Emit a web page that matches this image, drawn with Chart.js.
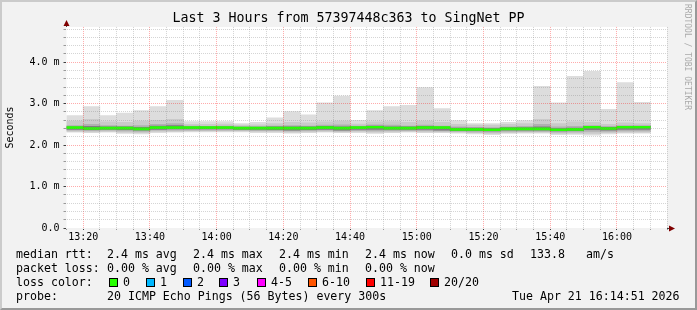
<!DOCTYPE html>
<html>
<head>
<meta charset="utf-8">
<script src="https://cdn.jsdelivr.net/npm/chart.js@4.4.1/dist/chart.umd.min.js"></script>
<style>
  html, body { margin: 0; padding: 0; background: #f2f2f2; }
  #wrap { position: relative; width: 697px; height: 310px; overflow: hidden; font-family: 'DejaVu Sans Mono', monospace; }
  #frame { position: absolute; left: 0; top: 0; width: 697px; height: 310px; box-sizing: border-box;
           border-style: solid; border-width: 2px; border-color: #cbcbcb #999 #999 #cbcbcb; pointer-events: none; }
  canvas { position: absolute; left: 0; top: 0; }
  .t { position: absolute; font-size: 11.6px; line-height: 14px; white-space: pre; color: #000; }
  .box { position: absolute; top: 278px; width: 7px; height: 7px; border: 1px solid #000; }
  #mark { position: absolute; left: 683px; top: 4px; writing-mode: vertical-rl; font-size: 8px; line-height: 9px; color: #aaa; }
</style>
</head>
<body>
<div id="wrap">
  <canvas id="chart" width="697" height="310"></canvas>

  <div class="t" style="left:16px;top:247px">median rtt:</div>
  <div class="t" style="left:107px;top:247px">2.4 ms avg</div>
  <div class="t" style="left:193px;top:247px">2.4 ms max</div>
  <div class="t" style="left:279px;top:247px">2.4 ms min</div>
  <div class="t" style="left:365px;top:247px">2.4 ms now</div>
  <div class="t" style="left:451px;top:247px">0.0 ms sd</div>
  <div class="t" style="left:530px;top:247px">133.8</div>
  <div class="t" style="left:586px;top:247px">am/s</div>

  <div class="t" style="left:16px;top:261px">packet loss:</div>
  <div class="t" style="left:107px;top:261px">0.00 % avg</div>
  <div class="t" style="left:193px;top:261px">0.00 % max</div>
  <div class="t" style="left:279px;top:261px">0.00 % min</div>
  <div class="t" style="left:365px;top:261px">0.00 % now</div>

  <div class="t" style="left:16px;top:275px">loss color:</div>
  <div id="lossLegend"></div>

  <div class="t" style="left:16px;top:289px">probe:</div>
  <div class="t" style="left:107px;top:289px">20 ICMP Echo Pings (56 Bytes) every 300s</div>
  <div class="t" style="left:512px;top:289px">Tue Apr 21 16:14:51 2026</div>

  <div id="mark">RRDTOOL / TOBI OETIKER</div>
  <div id="frame"></div>
</div>

<script>
// 5 minute bins, start time of each
const slots = ['13:15', '13:20', '13:25', '13:30', '13:35', '13:40', '13:45', '13:50', '13:55',
               '14:00', '14:05', '14:10', '14:15', '14:20', '14:25', '14:30', '14:35', '14:40',
               '14:45', '14:50', '14:55', '15:00', '15:05', '15:10', '15:15', '15:20', '15:25',
               '15:30', '15:35', '15:40', '15:45', '15:50', '15:55', '16:00', '16:05'];

const xTickLabels = ['13:20', '13:40', '14:00', '14:20', '14:40', '15:00', '15:20', '15:40', '16:00'];
const yTickLabels = ['0.0', '1.0 m', '2.0 m', '3.0 m', '4.0 m'];

// rtt in ms: outer smoke (min..max) and inner smoke bands
const rttMax = [2.71, 2.93, 2.71, 2.77, 2.83, 2.93, 3.08, 2.57, 2.57, 2.57, 2.52, 2.55, 2.66, 2.81, 2.73, 3.02, 3.18, 2.60,
                2.83, 2.93, 2.96, 3.39, 2.88, 2.59, 2.52, 2.52, 2.55, 2.59, 3.42, 3.02, 3.66, 3.78, 2.86, 3.51, 3.03];
const rttMin = [2.31, 2.30, 2.31, 2.28, 2.27, 2.30, 2.31, 2.32, 2.32, 2.32, 2.32, 2.30, 2.30, 2.29, 2.30, 2.31, 2.30, 2.30,
                2.28, 2.30, 2.31, 2.30, 2.30, 2.29, 2.27, 2.25, 2.28, 2.29, 2.29, 2.25, 2.26, 2.24, 2.27, 2.29, 2.29];
const smoke2Hi = [2.58, 2.62, 2.56, 2.55, 2.58, 2.60, 2.62, 2.50, 2.50, 2.51, 2.48, 2.49, 2.52, 2.55, 2.54, 2.56, 2.58, 2.51,
                  2.56, 2.57, 2.55, 2.58, 2.55, 2.50, 2.48, 2.48, 2.50, 2.52, 2.62, 2.52, 2.56, 2.55, 2.50, 2.54, 2.52];
const smoke2Lo = [2.33, 2.32, 2.33, 2.31, 2.30, 2.33, 2.33, 2.34, 2.34, 2.34, 2.34, 2.33, 2.33, 2.31, 2.32, 2.33, 2.32, 2.33,
                  2.31, 2.32, 2.33, 2.32, 2.32, 2.31, 2.30, 2.28, 2.30, 2.31, 2.31, 2.28, 2.29, 2.28, 2.30, 2.31, 2.31];
const smoke3Hi = [2.47, 2.50, 2.47, 2.46, 2.47, 2.50, 2.52, 2.46, 2.45, 2.46, 2.45, 2.45, 2.46, 2.47, 2.46, 2.48, 2.49, 2.46,
                  2.49, 2.48, 2.46, 2.48, 2.46, 2.44, 2.43, 2.42, 2.44, 2.45, 2.50, 2.44, 2.45, 2.47, 2.45, 2.47, 2.47];
const smoke3Lo = [2.36, 2.35, 2.36, 2.34, 2.33, 2.36, 2.36, 2.36, 2.36, 2.36, 2.36, 2.35, 2.35, 2.34, 2.35, 2.36, 2.34, 2.35,
                  2.34, 2.35, 2.35, 2.35, 2.34, 2.33, 2.32, 2.31, 2.33, 2.33, 2.33, 2.31, 2.32, 2.33, 2.33, 2.34, 2.34];
const smoke4Hi = [2.44, 2.45, 2.44, 2.44, 2.43, 2.46, 2.47, 2.44, 2.44, 2.44, 2.43, 2.43, 2.44, 2.44, 2.44, 2.45, 2.44, 2.44,
                  2.46, 2.44, 2.44, 2.45, 2.44, 2.41, 2.41, 2.40, 2.42, 2.42, 2.44, 2.40, 2.41, 2.45, 2.43, 2.45, 2.45];
const smoke4Lo = [2.38, 2.37, 2.38, 2.37, 2.36, 2.38, 2.39, 2.39, 2.39, 2.39, 2.38, 2.38, 2.37, 2.36, 2.37, 2.38, 2.36, 2.38,
                  2.38, 2.38, 2.38, 2.38, 2.36, 2.35, 2.35, 2.34, 2.36, 2.36, 2.36, 2.34, 2.35, 2.37, 2.36, 2.38, 2.38];
const medianRtt = [2.42, 2.40, 2.41, 2.41, 2.39, 2.42, 2.42, 2.42, 2.42, 2.42, 2.41, 2.41, 2.41, 2.41, 2.41, 2.42, 2.41, 2.42,
                   2.43, 2.41, 2.41, 2.42, 2.42, 2.38, 2.38, 2.37, 2.39, 2.39, 2.39, 2.37, 2.38, 2.43, 2.40, 2.43, 2.43];

const lossLabels = ['0', '1', '2', '3', '4-5', '6-10', '11-19', '20/20'];
const lossColors = ['#26ff00', '#00b8ff', '#0059ff', '#7e00ff', '#ff00ff', '#ff5500', '#ff0000', '#a00000'];
const lossBoxX = [109, 146, 183, 219, 257, 308, 366, 430];

const FONT = "'DejaVu Sans Mono', monospace";
const MED_HALF = 0.024;   // half thickness of the median line, ms

function toMin(s) {
    const [h, m] = s.split(':').map(Number);
    return h * 60 + m;
}
const START = toMin(slots[0]);
const xs = slots.map(s => toMin(s) - START + 2.5);

const tickAt = {};
xTickLabels.forEach(l => { tickAt[toMin(l) - START] = l; });

function band(lo, hi, color) {
    return {
        data: xs.map((x, i) => ({ x: x, y: [lo[i], hi[i]] })),
        backgroundColor: color,
        borderWidth: 0,
        grouped: false,
        barPercentage: 1,
        categoryPercentage: 1
    };
}

// loss colour legend
const lossDiv = document.getElementById('lossLegend');
lossDiv.innerHTML = lossLabels.map((l, i) => `
    <div class="box" style="left:${lossBoxX[i]}px;background:${lossColors[i]}"></div>
    <div class="t" style="left:${lossBoxX[i] + 14}px;top:275px">${l}</div>
`).join('');

const isIntY = v => Math.abs(v - Math.round(v)) < 1e-6;

const plotBg = {
    id: 'plotBg',
    beforeDraw(chart) {
        const { ctx, chartArea: a } = chart;
        ctx.save();
        ctx.fillStyle = '#ffffff';
        ctx.fillRect(a.left, a.top, a.right - a.left, a.bottom - a.top);
        ctx.restore();
    }
};

const axisArrows = {
    id: 'axisArrows',
    afterDraw(chart) {
        const { ctx, chartArea: a } = chart;
        const x0 = Math.round(a.left - 0.5) + 0.5;
        const y0 = Math.round(a.bottom - 0.5) + 0.5;
        ctx.save();
        ctx.strokeStyle = '#404040';
        ctx.lineWidth = 1;
        ctx.beginPath();
        ctx.moveTo(x0, a.top);
        ctx.lineTo(x0, a.top - 3);
        ctx.moveTo(a.right, y0);
        ctx.lineTo(a.right + 4, y0);
        ctx.stroke();
        ctx.fillStyle = '#7f0000';
        ctx.beginPath();
        ctx.moveTo(x0, a.top - 7);
        ctx.lineTo(x0 - 3, a.top - 1);
        ctx.lineTo(x0 + 3, a.top - 1);
        ctx.closePath();
        ctx.fill();
        ctx.beginPath();
        ctx.moveTo(a.right + 8, y0);
        ctx.lineTo(a.right + 2, y0 - 3);
        ctx.lineTo(a.right + 2, y0 + 3);
        ctx.closePath();
        ctx.fill();
        ctx.restore();
    }
};

const MINOR = 'rgba(128,128,128,0.33)';
const MAJOR = 'rgba(255,0,0,0.33)';

new Chart(document.getElementById('chart'), {
    type: 'bar',
    data: {
        datasets: [
            band(medianRtt.map(v => v - MED_HALF), medianRtt.map(v => v + MED_HALF), '#26ff00'),
            band(smoke4Lo, smoke4Hi, '#7e7e7e'),
            band(smoke3Lo, smoke3Hi, '#b0b0b0'),
            band(smoke2Lo, smoke2Hi, '#cacaca'),
            band(rttMin, rttMax, '#dddddd')
        ]
    },
    options: {
        responsive: false,
        devicePixelRatio: 1,
        animation: false,
        layout: { padding: 0 },
        plugins: {
            legend: { display: false },
            tooltip: { enabled: false },
            title: {
                display: true,
                text: 'Last 3 Hours from 57397448c363 to SingNet PP',
                color: '#000',
                font: { family: FONT, size: 13.3, weight: 'normal' },
                padding: { top: 11, bottom: 0 }
            }
        },
        scales: {
            x: {
                type: 'linear',
                min: 0,
                max: 180,
                offset: false,
                afterFit: s => { s.height = 82; },
                ticks: {
                    stepSize: 5,
                    maxTicksLimit: 100,
                    autoSkip: false,
                    maxRotation: 0,
                    padding: 1,
                    color: '#000',
                    font: { family: FONT, size: 10 },
                    callback: v => tickAt[v] !== undefined ? tickAt[v] : ''
                },
                grid: {
                    offset: false,
                    z: 1,
                    tickLength: 2,
                    color: ctx => ctx.tick.value === 0 ? 'rgba(0,0,0,0)' : (tickAt[ctx.tick.value] !== undefined ? MAJOR : MINOR),
                    tickColor: ctx => tickAt[ctx.tick.value] !== undefined ? '#404040' : 'rgba(64,64,64,0.5)'
                },
                border: { color: '#404040', dash: [1, 1] }
            },
            y: {
                min: 0,
                max: 4.85,
                afterFit: s => { s.width = 66.5; },
                ticks: {
                    stepSize: 0.2,
                    maxTicksLimit: 100,
                    includeBounds: false,
                    autoSkip: false,
                    padding: 4,
                    color: '#000',
                    font: { family: FONT, size: 10 },
                    callback: v => isIntY(v) ? (yTickLabels[Math.round(v)] || '') : ''
                },
                grid: {
                    z: 1,
                    tickLength: 3,
                    color: ctx => ctx.tick.value === 0 ? 'rgba(0,0,0,0)' : (isIntY(ctx.tick.value) ? MAJOR : MINOR),
                    tickColor: ctx => isIntY(ctx.tick.value) ? '#404040' : 'rgba(64,64,64,0.5)'
                },
                border: { color: '#404040', dash: [1, 1] },
                title: {
                    display: true,
                    text: 'Seconds',
                    color: '#000',
                    font: { family: FONT, size: 10 },
                    padding: { top: 4, bottom: 0 }
                }
            },
            // empty right margin so the title stays centred on the whole image
            yRight: {
                position: 'right',
                afterFit: s => { s.width = 30; },
                ticks: { display: false },
                grid: { display: false, drawTicks: false },
                border: { display: false }
            }
        }
    },
    plugins: [plotBg, axisArrows]
});
</script>
</body>
</html>
